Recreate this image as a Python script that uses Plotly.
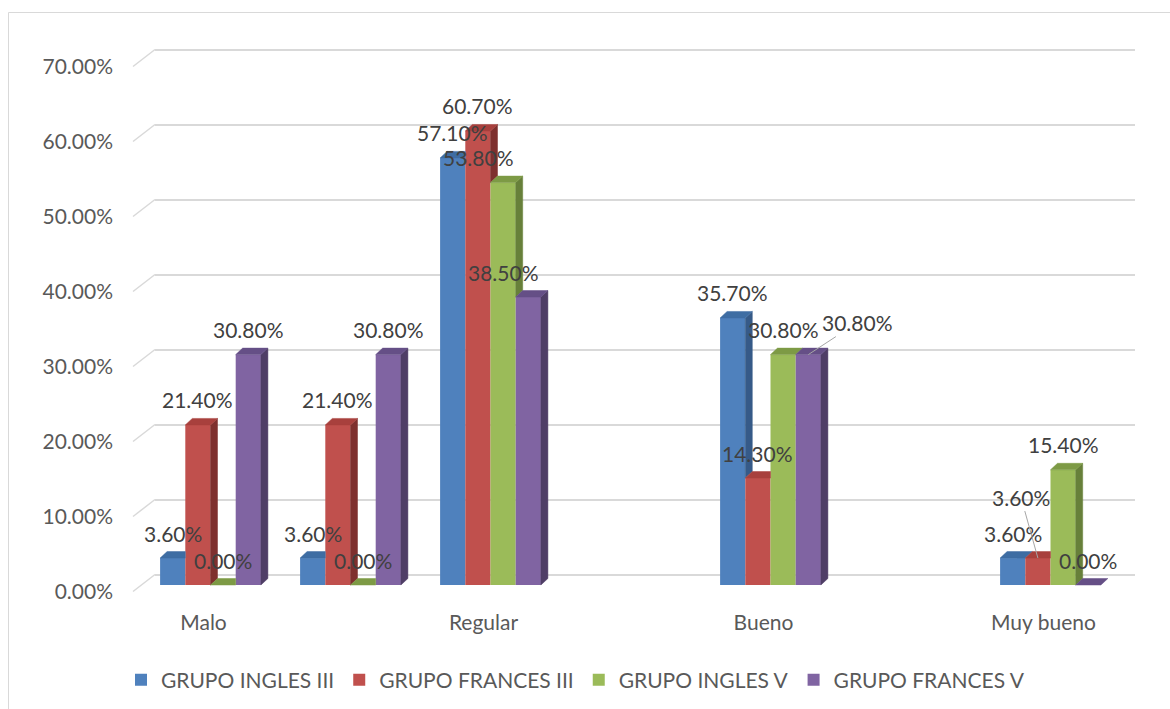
import plotly.graph_objects as go

# ---- data -------------------------------------------------------------
categories = ["Malo", "", "Regular", "", "Bueno", "", "Muy bueno"]
series_names = ["GRUPO INGLES III", "GRUPO FRANCES III", "GRUPO INGLES V", "GRUPO FRANCES V"]
ingles_iii = [3.6, 3.6, 57.1, None, 35.7, None, 3.6]
frances_iii = [21.4, 21.4, 60.7, None, 14.3, None, 3.6]
ingles_v = [0.0, 0.0, 53.8, None, 30.8, None, 15.4]
frances_v = [30.8, 30.8, 38.5, None, 30.8, None, 0.0]
y_ticks = [0, 10, 20, 30, 40, 50, 60, 70]

series_values = [ingles_iii, frances_iii, ingles_v, frances_v]

# ---- styling ----------------------------------------------------------
front_colors = ["#4F81BD", "#C0504D", "#9BBB59", "#8064A2"]
top_colors = ["#3E6DA3", "#A8403D", "#7D9A45", "#654F86"]
side_colors = ["#365A88", "#7E302E", "#67803A", "#4F3E66"]
FONT = "Lato"
AXIS_TEXT = "#595959"
LABEL_TEXT = "#404040"
GRID = "#D9D9D9"

W, H = 1170, 709
PLOT_TOP, PLOT_BOTTOM = 30, 600            # pixel rows of the plotting band
Y_DOMAIN = [1 - PLOT_BOTTOM / H, 1 - PLOT_TOP / H]


def px_x(px):
    return px / W


def y_range(zero_px, px_per_unit):
    return [(zero_px - PLOT_BOTTOM) / px_per_unit, (zero_px - PLOT_TOP) / px_per_unit]


# bars (front plane)
SLOT_PX = 140
BAR_X0, BAR_X1 = 140.5, 1120.5
BAR_ZERO_PX, BAR_SCALE = 585, 7.48
BAR_W = 0.18
DEPTH_X = 7 / SLOT_PX
DEPTH_Y = 6.5 / BAR_SCALE

# back wall grid
GRID_X0, GRID_X1 = 155, 1135
GRID_ZERO_PX, GRID_SCALE = 574.5, 7.5
WALL_DX_PX, WALL_DY_PX = 22, 17

# label placement tweaks: (series, slot) -> pixel x shift
label_xshift = {(2, 2): -25, (3, 2): -25}
# labels drawn with a leader line: (series, slot) -> (ax, ay)
label_leader = {(3, 4): (49, -32), (1, 6): (-17, -61)}

fig = go.Figure()

# front faces
for k, (name, vals) in enumerate(zip(series_names, series_values)):
    fig.add_trace(go.Bar(
        name=name, x=list(range(len(categories))), y=vals,
        width=BAR_W, offset=-2 * BAR_W + k * BAR_W,
        marker=dict(color=front_colors[k], line=dict(width=0)),
        xaxis="x2", yaxis="y2", hoverinfo="skip",
    ))

# top and side faces
for k, vals in enumerate(series_values):
    nxt = series_values[k + 1] if k + 1 < len(series_values) else None
    tx, ty, sx, sy = [], [], [], []
    for i, v in enumerate(vals):
        if v is None:
            continue
        xl = i - 2 * BAR_W + k * BAR_W
        xr = xl + BAR_W
        hn = nxt[i] if nxt is not None else None
        if hn is not None and hn > v:
            tx += [xl, xr, xr, xl + DEPTH_X, xl, None]
        else:
            tx += [xl, xr, xr + DEPTH_X, xl + DEPTH_X, xl, None]
        ty += [v, v, v + DEPTH_Y, v + DEPTH_Y, v, None]
        lo = 0 if hn is None else max(hn, 0)
        if v > lo:
            sx += [xr, xr, xr + DEPTH_X, xr + DEPTH_X, xr, None]
            sy += [lo, v, v + DEPTH_Y, lo + DEPTH_Y, lo, None]
    for xs, ys, col in ((sx, sy, side_colors[k]), (tx, ty, top_colors[k])):
        if xs:
            fig.add_trace(go.Scatter(
                x=xs, y=ys, mode="lines", fill="toself", fillcolor=col,
                line=dict(color=col, width=0.5), showlegend=False,
                hoverinfo="skip", xaxis="x2", yaxis="y2",
            ))

# value labels
annotations = []
for k, vals in enumerate(series_values):
    for i, v in enumerate(vals):
        if v is None:
            continue
        xc = i - 2 * BAR_W + k * BAR_W + BAR_W / 2
        common = dict(x=xc, y=v, xref="x2", yref="y2", text=f"{v:.2f}%",
                      font=dict(family=FONT, size=21, color=LABEL_TEXT))
        if (k, i) in label_leader:
            ax, ay = label_leader[(k, i)]
            annotations.append(dict(**common, showarrow=True, arrowhead=0,
                                    arrowwidth=1, arrowcolor="#A6A6A6",
                                    ax=ax, ay=ay))
        else:
            annotations.append(dict(**common, showarrow=False, yshift=25,
                                    xshift=label_xshift.get((k, i), 0)))

# back-wall diagonals at each gridline
shapes = []
wall_dy = WALL_DY_PX / GRID_SCALE
for t in y_ticks:
    shapes.append(dict(type="line", xref="paper", yref="y",
                       x0=px_x(GRID_X0 - WALL_DX_PX), y0=t - wall_dy,
                       x1=px_x(GRID_X0), y1=t,
                       line=dict(color=GRID, width=1.5), layer="below"))
# chart frame
shapes.append(dict(type="rect", xref="paper", yref="paper",
                   x0=px_x(8.5), x1=1.05, y0=-0.05, y1=1 - 12.5 / H,
                   line=dict(color=GRID, width=1), layer="below"))

fig.update_layout(
    width=W, height=H, margin=dict(l=0, r=0, t=0, b=0, autoexpand=False),
    paper_bgcolor="white", plot_bgcolor="rgba(0,0,0,0)",
    barmode="overlay", showlegend=True,
    font=dict(family=FONT, color=AXIS_TEXT, size=21),
    xaxis=dict(domain=[px_x(GRID_X0), px_x(GRID_X1)], range=[0, 1],
               automargin=False,
               showgrid=False, zeroline=False, showline=False,
               showticklabels=False, ticks=""),
    yaxis=dict(domain=Y_DOMAIN, anchor="x", automargin=False,
               range=y_range(GRID_ZERO_PX, GRID_SCALE),
               tickvals=y_ticks, ticktext=[f"{t:.2f}%" for t in y_ticks],
               ticklabelshift=17, ticklabelstandoff=41,
               tickfont=dict(family=FONT, size=21, color=AXIS_TEXT),
               showgrid=True, gridcolor=GRID, gridwidth=1.5,
               zeroline=False, showline=False, ticks=""),
    xaxis2=dict(domain=[px_x(BAR_X0), px_x(BAR_X1)], anchor="y2",
                automargin=False,
                range=[-0.5, len(categories) - 0.5],
                tickvals=list(range(len(categories))), ticktext=categories,
                ticklabelshift=-7, ticklabelstandoff=8,
                showgrid=False, zeroline=False, showline=False, ticks="",
                tickfont=dict(family=FONT, size=21, color=AXIS_TEXT)),
    yaxis2=dict(domain=Y_DOMAIN, anchor="x2", automargin=False,
                range=y_range(BAR_ZERO_PX, BAR_SCALE),
                showgrid=False, zeroline=False, showline=False,
                showticklabels=False, ticks=""),
    legend=dict(orientation="h", x=px_x(121), y=1 - 680 / H,
                xanchor="left", yanchor="middle", traceorder="normal",
                font=dict(family=FONT, size=21, color=AXIS_TEXT),
                bgcolor="rgba(0,0,0,0)"),
    annotations=annotations,
    shapes=shapes,
)

fig.write_html("out.html")
